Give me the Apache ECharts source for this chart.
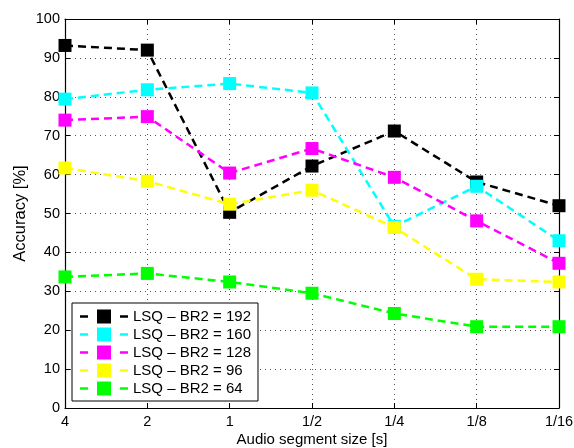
<!DOCTYPE html>
<html>
<head>
<meta charset="utf-8">
<script src="https://cdn.jsdelivr.net/npm/echarts@6/dist/echarts.min.js"></script>
<style>
html,body{margin:0;padding:0;background:#fff;}
#chart{width:574px;height:448px;}
</style>
</head>
<body>
<div id="chart"></div>
<script>
const categories = ['4', '2', '1', '1/2', '1/4', '1/8', '1/16'];
const yTicks = [0, 10, 20, 30, 40, 50, 60, 70, 80, 90, 100];
const seriesNames = ['LSQ \u2013 BR2 = 192', 'LSQ \u2013 BR2 = 160', 'LSQ \u2013 BR2 = 128', 'LSQ \u2013 BR2 = 96', 'LSQ \u2013 BR2 = 64'];
const br192 = [93.2, 92.0, 50.3, 62.2, 71.2, 58.1, 52.0];
const br160 = [79.4, 81.8, 83.4, 81.0, 46.7, 57.0, 43.0];
const br128 = [74.0, 74.9, 60.4, 66.7, 59.3, 48.1, 37.2];
const br96 = [61.7, 58.3, 52.4, 56.0, 46.4, 33.1, 32.4];
const br64 = [33.7, 34.6, 32.4, 29.5, 24.3, 20.9, 20.9];
const colors = ['#000000', '#00ffff', '#ff00ff', '#ffff00', '#00ff00'];

const FONT = '"Liberation Sans", Arial, Helvetica, sans-serif';
const dataSets = [br192, br160, br128, br96, br64];

// legend sample: short dash, square, short dash (MATLAB style)
const LEGEND_ICON = 'path://M0,5.75h8v2.5h-8z M17,0h14v14h-14z M40,5.75h8v2.5h-8z';

const chart = echarts.init(document.getElementById('chart'), null, {renderer: 'canvas'});

const gridLine = {show: true, lineStyle: {color: '#555', width: 1, type: [1, 4]}};
const axisLine = {show: true, onZero: false, lineStyle: {color: '#000', width: 1.2}};

const option = {
  backgroundColor: '#fff',
  animation: false,
  textStyle: {fontFamily: FONT},
  grid: {left: 65, right: 15, top: 19, bottom: 40, containLabel: false, outerBoundsMode: 'none'},
  legend: {
    orient: 'vertical',
    left: 72,
    top: 303,
    padding: [6, 7, 5, 8],
    itemWidth: 48,
    itemHeight: 14,
    itemGap: 3,
    icon: LEGEND_ICON,
    backgroundColor: '#fff',
    borderColor: '#000',
    borderWidth: 1,
    borderRadius: 0,
    textStyle: {fontSize: 15, lineHeight: 15, color: '#000', fontFamily: FONT},
    data: seriesNames
  },
  xAxis: [{
    type: 'category',
    data: categories,
    boundaryGap: false,
    position: 'bottom',
    name: 'Audio segment size [s]',
    nameLocation: 'middle',
    nameGap: 24,
    nameMoveOverlap: false,
    nameTextStyle: {fontSize: 15, color: '#000', fontFamily: FONT},
    axisLine: axisLine,
    axisTick: {show: true, inside: true, length: 5, alignWithLabel: true, lineStyle: {color: '#000'}},
    axisLabel: {fontSize: 14.5, color: '#000', margin: 6, fontFamily: FONT},
    splitLine: gridLine
  }, {
    type: 'category',
    data: categories,
    boundaryGap: false,
    position: 'top',
    axisLine: axisLine,
    axisTick: {show: true, inside: true, length: 5, lineStyle: {color: '#000'}},
    axisLabel: {show: false},
    splitLine: {show: false}
  }],
  yAxis: [{
    type: 'value',
    min: yTicks[0],
    max: yTicks[yTicks.length - 1],
    interval: 10,
    position: 'left',
    name: 'Accuracy [%]',
    nameLocation: 'middle',
    nameGap: 36,
    nameMoveOverlap: false,
    nameTextStyle: {fontSize: 16.5, color: '#000', fontFamily: FONT},
    axisLine: axisLine,
    axisTick: {show: true, inside: true, length: 5, lineStyle: {color: '#000'}},
    axisLabel: {fontSize: 14.5, color: '#000', margin: 5, fontFamily: FONT},
    splitLine: gridLine
  }, {
    type: 'value',
    min: yTicks[0],
    max: yTicks[yTicks.length - 1],
    interval: 10,
    position: 'right',
    axisLine: axisLine,
    axisTick: {show: true, inside: true, length: 5, lineStyle: {color: '#000'}},
    axisLabel: {show: false},
    splitLine: {show: false}
  }],
  series: dataSets.map((d, i) => ({
    name: seriesNames[i],
    type: 'line',
    data: d,
    xAxisIndex: 0,
    yAxisIndex: 0,
    symbol: 'rect',
    symbolSize: 13,
    color: colors[i],
    itemStyle: {color: colors[i], borderWidth: 0},
    lineStyle: {color: colors[i], width: 2.5, type: [8, 5]},
    z: 2 + i
  }))
};
chart.setOption(option);
</script>
</body>
</html>
